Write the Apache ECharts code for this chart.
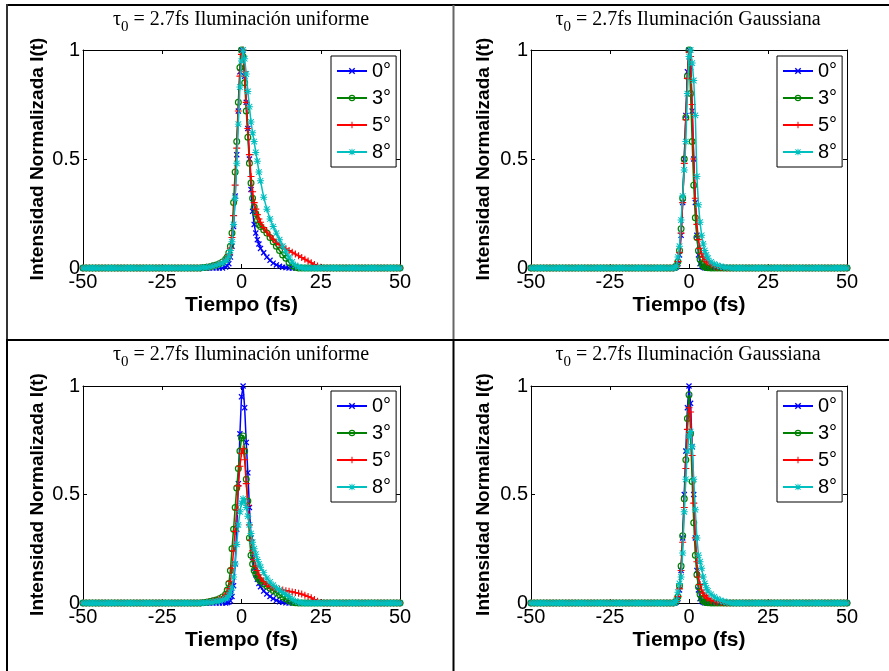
<!DOCTYPE html>
<html>
<head>
<meta charset="utf-8">
<script src="https://cdn.jsdelivr.net/npm/echarts@6/dist/echarts.min.js"></script>
<style>html,body{margin:0;padding:0;background:#fff}#c{width:889px;height:671px}</style>
</head>
<body>
<div id="c"></div>
<script>
// ---------- DATA ----------
const tiempo = [
  -50,-49,-48,-47,-46,-45,-44,-43,-42,-41,-40,-39,-38,-37,-36,-35,-34,-33,-32,-31,-30,-29,-28,-27,-26,
  -25,-24,-23,-22,-21,-20,-19,-18,-17,-16,-15,-14,-13,-12,-11,-10,-9,-8,-7,-6,-5,
  -4.5,-4,-3.5,-3,-2.5,-2,-1.5,-1,-0.5,0,0.5,1,1.5,2,2.5,3,3.5,4,4.5,5,5.5,6,
  7,8,9,10,11,12,13,14,15,16,17,18,19,20,21,22,23,24,25,26,
  27,28,29,30,31,32,33,34,35,36,37,38,39,40,41,42,43,44,45,46,47,48,49,50
];
const xTicks = [-50, -25, 0, 25, 50];
const yTicks = [0, 0.5, 1];
const nombres = ['0°', '3°', '5°', '8°'];
const tituloSimbolo = 'τ';
const tituloSub = '0';
const tituloResto = [
  ' = 2.7fs Iluminación uniforme',
  ' = 2.7fs Iluminación Gaussiana',
  ' = 2.7fs Iluminación uniforme',
  ' = 2.7fs Iluminación Gaussiana'
];
const ejeX = 'Tiempo (fs)';
const ejeY = 'Intensidad Normalizada I(t)';

// Panel 1: uniforme (top-left)
const u1_0 = [
  0,0,0,0,0, 0,0,0,0,0, 0,0,0,0,0, 0,0,0,0,0, 0,0,0,0,0,
  0,0,0,0,0, 0,0,0,0,0, 0,0,0,0,0, 0,0,0,0,0, 0.005,
  0.01,0.02,0.05,0.1,0.19,0.33,0.52,0.72,0.9,1,0.98,0.88,0.76,0.64,0.5,0.36,0.26,0.2,0.16,0.13,0.11,0.09,
  0.07,0.05,0.035,0.022,0.014,0.008,0.004,0.002, 0,0,0,0,0, 0,0,0,0,0, 0,0,
  0,0,0,0,0, 0,0,0,0,0, 0,0,0,0,0, 0,0,0,0,0, 0,0,0,0
];
const u1_3 = [
  0,0,0,0,0, 0,0,0,0,0, 0,0,0,0,0, 0,0,0,0,0, 0,0,0,0,0,
  0,0,0,0,0, 0,0,0,0,0, 0,0,0, 0.002,0.004,0.006,0.01,0.014,0.02,0.028,0.04,
  0.05,0.07,0.1,0.16,0.3,0.44,0.58,0.76,0.92,1,0.97,0.85,0.72,0.6,0.48,0.39,0.32,0.28,0.25,0.22,0.2,0.19,
  0.175,0.16,0.14,0.12,0.1,0.08,0.06,0.045,0.025,0.01,0.003, 0,0,0,0,0, 0,0,0,0,
  0,0,0,0,0, 0,0,0,0,0, 0,0,0,0,0, 0,0,0,0,0, 0,0,0,0
];
const u1_5 = [
  0,0,0,0,0, 0,0,0,0,0, 0,0,0,0,0, 0,0,0,0,0, 0,0,0,0,0,
  0,0,0,0,0, 0,0,0,0,0, 0,0,0, 0.002,0.003,0.005,0.008,0.012,0.018,0.025,0.035,
  0.045,0.06,0.09,0.14,0.24,0.38,0.55,0.72,0.88,0.98,1,0.9,0.76,0.64,0.52,0.42,0.35,0.3,0.27,0.245,0.225,0.21,
  0.185,0.165,0.148,0.132,0.118,0.107,0.097,0.088,0.08,0.072,0.064,0.056,0.048,0.04,0.032,0.024,0.016,0.009,0.003,0,
  0,0,0,0,0, 0,0,0,0,0, 0,0,0,0,0, 0,0,0,0,0, 0,0,0,0
];
const u1_8 = [
  0,0,0,0,0, 0,0,0,0,0, 0,0,0,0,0, 0,0,0,0,0, 0,0,0,0,0,
  0,0,0,0,0, 0,0,0,0,0, 0,0,0, 0.002,0.003,0.005,0.008,0.012,0.017,0.024,0.033,
  0.04,0.055,0.08,0.12,0.2,0.32,0.48,0.66,0.83,0.95,1,0.96,0.89,0.81,0.74,0.67,0.62,0.58,0.53,0.49,0.44,0.4,
  0.325,0.27,0.225,0.19,0.16,0.13,0.1,0.075,0.05,0.028,0.012,0.005,0.001, 0,0,0,0,0, 0,0,
  0,0,0,0,0, 0,0,0,0,0, 0,0,0,0,0, 0,0,0,0,0, 0,0,0,0
];

// Panel 2: Gaussiana (top-right)
const g1_0 = [
  0,0,0,0,0, 0,0,0,0,0, 0,0,0,0,0, 0,0,0,0,0, 0,0,0,0,0,
  0,0,0,0,0, 0,0,0,0,0, 0,0,0,0,0, 0,0,0,0,0, 0,
  0,0.005,0.02,0.06,0.15,0.3,0.5,0.7,0.9,1,0.92,0.72,0.5,0.3,0.15,0.06,0.02,0.008,0.003,0.001,0,0,
  0,0,0,0,0, 0,0,0,0,0, 0,0,0,0,0, 0,0,0,0,0,
  0,0,0,0,0, 0,0,0,0,0, 0,0,0,0,0, 0,0,0,0,0, 0,0,0,0
];
const g1_3 = [
  0,0,0,0,0, 0,0,0,0,0, 0,0,0,0,0, 0,0,0,0,0, 0,0,0,0,0,
  0,0,0,0,0, 0,0,0,0,0, 0,0,0,0,0, 0,0,0,0,0, 0,
  0.002,0.01,0.03,0.08,0.18,0.32,0.5,0.69,0.88,1,0.8,0.58,0.38,0.23,0.14,0.08,0.04,0.02,0.01,0.005,0.002,0.001,
  0,0,0,0,0, 0,0,0,0,0, 0,0,0,0,0, 0,0,0,0,0,
  0,0,0,0,0, 0,0,0,0,0, 0,0,0,0,0, 0,0,0,0,0, 0,0,0,0
];
const g1_5 = [
  0,0,0,0,0, 0,0,0,0,0, 0,0,0,0,0, 0,0,0,0,0, 0,0,0,0,0,
  0,0,0,0,0, 0,0,0,0,0, 0,0,0,0,0, 0,0,0,0,0, 0,
  0.002,0.01,0.03,0.07,0.16,0.3,0.48,0.68,0.87,0.99,0.97,0.75,0.5,0.32,0.2,0.13,0.09,0.065,0.05,0.038,0.03,0.024,
  0.015,0.009,0.004,0.002,0.001, 0,0,0,0,0, 0,0,0,0,0, 0,0,0,0,0,
  0,0,0,0,0, 0,0,0,0,0, 0,0,0,0,0, 0,0,0,0,0, 0,0,0,0
];
const g1_8 = [
  0,0,0,0,0, 0,0,0,0,0, 0,0,0,0,0, 0,0,0,0,0, 0,0,0,0,0,
  0,0,0,0,0, 0,0,0,0,0, 0,0,0,0,0, 0,0,0,0,0, 0,
  0.002,0.01,0.05,0.1,0.22,0.33,0.45,0.58,0.8,0.97,1,0.94,0.86,0.7,0.42,0.29,0.21,0.15,0.11,0.08,0.06,0.045,
  0.028,0.018,0.012,0.007,0.004,0.002,0.001, 0,0,0,0,0, 0,0,0,0,0, 0,0,0,
  0,0,0,0,0, 0,0,0,0,0, 0,0,0,0,0, 0,0,0,0,0, 0,0,0,0
];

// Panel 3: uniforme (bottom-left)
const u2_0 = [
  0,0,0,0,0, 0,0,0,0,0, 0,0,0,0,0, 0,0,0,0,0, 0,0,0,0,0,
  0,0,0,0,0, 0,0,0,0,0, 0,0,0,0,0, 0,0,0,0,0, 0,
  0.002,0.005,0.01,0.03,0.08,0.18,0.34,0.55,0.78,0.95,1,0.9,0.74,0.6,0.44,0.3,0.21,0.16,0.13,0.11,0.09,0.075,
  0.055,0.042,0.03,0.02,0.012,0.006,0.003,0.001, 0,0,0,0,0, 0,0,0,0,0, 0,0,
  0,0,0,0,0, 0,0,0,0,0, 0,0,0,0,0, 0,0,0,0,0, 0,0,0,0
];
const u2_3 = [
  0,0,0,0,0, 0,0,0,0,0, 0,0,0,0,0, 0,0,0,0,0, 0,0,0,0,0,
  0,0,0,0,0, 0,0,0,0,0, 0,0,0, 0.002,0.004,0.007,0.01,0.014,0.02,0.028,0.04,
  0.06,0.09,0.15,0.25,0.34,0.44,0.53,0.62,0.7,0.76,0.77,0.7,0.57,0.47,0.3,0.22,0.18,0.15,0.135,0.12,0.11,0.1,
  0.088,0.078,0.068,0.058,0.048,0.038,0.028,0.018,0.01,0.004,0.001, 0,0,0,0,0, 0,0,0,0,
  0,0,0,0,0, 0,0,0,0,0, 0,0,0,0,0, 0,0,0,0,0, 0,0,0,0
];
const u2_5 = [
  0,0,0,0,0, 0,0,0,0,0, 0,0,0,0,0, 0,0,0,0,0, 0,0,0,0,0,
  0,0,0,0,0, 0,0,0,0,0, 0,0,0, 0.002,0.003,0.005,0.008,0.012,0.017,0.024,0.033,
  0.045,0.065,0.1,0.16,0.24,0.33,0.43,0.54,0.63,0.69,0.71,0.66,0.55,0.45,0.36,0.29,0.24,0.2,0.17,0.15,0.13,0.115,
  0.1,0.085,0.076,0.07,0.066,0.063,0.06,0.057,0.054,0.051,0.048,0.045,0.041,0.036,0.03,0.024,0.016,0.008,0.002,0,
  0,0,0,0,0, 0,0,0,0,0, 0,0,0,0,0, 0,0,0,0,0, 0,0,0,0
];
const u2_8 = [
  0,0,0,0,0, 0,0,0,0,0, 0,0,0,0,0, 0,0,0,0,0, 0,0,0,0,0,
  0,0,0,0,0, 0,0,0,0,0, 0,0,0, 0.001,0.002,0.003,0.005,0.007,0.01,0.014,0.02,
  0.025,0.035,0.05,0.07,0.12,0.18,0.27,0.36,0.42,0.46,0.48,0.47,0.44,0.4,0.36,0.32,0.28,0.25,0.225,0.2,0.18,0.165,
  0.14,0.115,0.097,0.082,0.07,0.06,0.05,0.04,0.03,0.018,0.008,0.003,0.001, 0,0,0,0,0, 0,0,
  0,0,0,0,0, 0,0,0,0,0, 0,0,0,0,0, 0,0,0,0,0, 0,0,0,0
];

// Panel 4: Gaussiana (bottom-right)
const g2_0 = [
  0,0,0,0,0, 0,0,0,0,0, 0,0,0,0,0, 0,0,0,0,0, 0,0,0,0,0,
  0,0,0,0,0, 0,0,0,0,0, 0,0,0,0,0, 0,0,0,0,0, 0,
  0,0.005,0.02,0.06,0.15,0.3,0.5,0.7,0.9,1,0.92,0.72,0.5,0.3,0.15,0.06,0.02,0.008,0.003,0.001,0,0,
  0,0,0,0,0, 0,0,0,0,0, 0,0,0,0,0, 0,0,0,0,0,
  0,0,0,0,0, 0,0,0,0,0, 0,0,0,0,0, 0,0,0,0,0, 0,0,0,0
];
const g2_3 = [
  0,0,0,0,0, 0,0,0,0,0, 0,0,0,0,0, 0,0,0,0,0, 0,0,0,0,0,
  0,0,0,0,0, 0,0,0,0,0, 0,0,0,0,0, 0,0,0,0,0, 0,
  0.002,0.01,0.03,0.08,0.17,0.31,0.48,0.66,0.85,0.96,0.78,0.56,0.37,0.22,0.13,0.075,0.04,0.02,0.01,0.005,0.002,0.001,
  0,0,0,0,0, 0,0,0,0,0, 0,0,0,0,0, 0,0,0,0,0,
  0,0,0,0,0, 0,0,0,0,0, 0,0,0,0,0, 0,0,0,0,0, 0,0,0,0
];
const g2_5 = [
  0,0,0,0,0, 0,0,0,0,0, 0,0,0,0,0, 0,0,0,0,0, 0,0,0,0,0,
  0,0,0,0,0, 0,0,0,0,0, 0,0,0,0,0, 0,0,0,0,0, 0,
  0.002,0.01,0.03,0.065,0.15,0.28,0.44,0.62,0.8,0.9,0.88,0.68,0.46,0.3,0.19,0.12,0.085,0.06,0.045,0.035,0.027,0.021,
  0.013,0.008,0.004,0.002,0.001, 0,0,0,0,0, 0,0,0,0,0, 0,0,0,0,0,
  0,0,0,0,0, 0,0,0,0,0, 0,0,0,0,0, 0,0,0,0,0, 0,0,0,0
];
const g2_8 = [
  0,0,0,0,0, 0,0,0,0,0, 0,0,0,0,0, 0,0,0,0,0, 0,0,0,0,0,
  0,0,0,0,0, 0,0,0,0,0, 0,0,0,0,0, 0,0,0,0,0, 0,
  0.002,0.012,0.05,0.09,0.12,0.23,0.42,0.57,0.7,0.77,0.79,0.72,0.57,0.43,0.3,0.22,0.19,0.16,0.12,0.09,0.07,0.055,
  0.04,0.028,0.019,0.012,0.007,0.003,0.001, 0,0,0,0,0, 0,0,0,0,0, 0,0,0,
  0,0,0,0,0, 0,0,0,0,0, 0,0,0,0,0, 0,0,0,0,0, 0,0,0,0
];

const datosPaneles = [
  [u1_0, u1_3, u1_5, u1_8],
  [g1_0, g1_3, g1_5, g1_8],
  [u2_0, u2_3, u2_5, u2_8],
  [g2_0, g2_3, g2_5, g2_8]
];

// ---------- LAYOUT & STYLE ----------
const layout = [
  {grid:{left:83, top:50, width:317, height:218}, tx:241, ty:5,   lx:331, ly:56,  gapY:36},
  {grid:{left:531, top:50, width:316, height:218}, tx:688, ty:5,  lx:777, ly:56,  gapY:38},
  {grid:{left:83, top:386, width:317, height:217}, tx:241, ty:340, lx:331, ly:391, gapY:36},
  {grid:{left:531, top:386, width:316, height:217}, tx:688, ty:340, lx:777, ly:391, gapY:38}
];
const colores = ['#0000ff', '#008000', '#ff0000', '#00bfbf'];
const simbolos = [
  'path://M0,1.5L1.5,0L5,3.5L8.5,0L10,1.5L6.5,5L10,8.5L8.5,10L5,6.5L1.5,10L0,8.5L3.5,5Z',
  'path://M0,5A5,5,0,1,1,10,5A5,5,0,1,1,0,5Z M1.7,5A3.3,3.3,0,1,0,8.3,5A3.3,3.3,0,1,0,1.7,5Z',
  'path://M4.2,0H5.8V4.2H10V5.8H5.8V10H4.2V5.8H0V4.2H4.2Z',
  'path://M4.3,0H5.7V4.3H10V5.7H5.7V10H4.3V5.7H0V4.3H4.3Z M0.5,1.5L1.5,0.5L5,4L8.5,0.5L9.5,1.5L6,5L9.5,8.5L8.5,9.5L5,6L1.5,9.5L0.5,8.5L4,5Z'
];
const tamSimbolo = [6, 7, 7, 7];
const sans = 'Liberation Sans, Arial, sans-serif';
const serif = 'Liberation Serif, Times New Roman, serif';

const grids = [], xAxes = [], yAxes = [], series = [], titles = [], legends = [];
layout.forEach((L, i) => {
  grids.push(Object.assign({show:false}, L.grid));
  const xBase = {gridIndex:i, type:'value', min:xTicks[0], max:xTicks[xTicks.length-1], interval:xTicks[1]-xTicks[0],
    splitLine:{show:false},
    axisLine:{show:true, onZero:false, lineStyle:{color:'#000', width:1}},
    axisTick:{show:true, inside:true, length:4, lineStyle:{color:'#000'}}};
  xAxes.push(Object.assign({}, xBase, {position:'bottom',
    axisLabel:{show:true, color:'#000', fontSize:20, fontFamily:sans, margin:4},
    name:ejeX, nameLocation:'middle', nameGap:27,
    nameTextStyle:{color:'#000', fontSize:21, fontWeight:'bold', fontFamily:sans}}));
  xAxes.push(Object.assign({}, xBase, {position:'top', axisLabel:{show:false}}));
  const yBase = {gridIndex:i, type:'value', min:yTicks[0], max:yTicks[yTicks.length-1], interval:yTicks[1]-yTicks[0],
    splitLine:{show:false},
    axisLine:{show:true, onZero:false, lineStyle:{color:'#000', width:1}},
    axisTick:{show:true, inside:true, length:4, lineStyle:{color:'#000'}}};
  yAxes.push(Object.assign({}, yBase, {position:'left',
    axisLabel:{show:true, color:'#000', fontSize:20, fontFamily:sans, margin:3},
    name:ejeY, nameLocation:'middle', nameGap:L.gapY, nameRotate:90,
    nameTextStyle:{color:'#000', fontSize:19, fontWeight:'bold', fontFamily:sans}}));
  yAxes.push(Object.assign({}, yBase, {position:'right', axisLabel:{show:false}}));

  datosPaneles[i].forEach((arr, k) => {
    series.push({
      type:'line', name:nombres[k], xAxisIndex:2*i, yAxisIndex:2*i,
      data: tiempo.map((t, j) => [t, arr[j]]),
      symbol:simbolos[k], symbolSize:tamSimbolo[k], showSymbol:true,
      lineStyle:{color:colores[k], width:1.5},
      itemStyle:{color:colores[k]},
      emphasis:{disabled:true}, animation:false, silent:true, z:2+k
    });
  });

  titles.push({
    text:'{n|' + tituloSimbolo + '}{s|' + tituloSub + '}{n|' + tituloResto[i] + '}',
    left:L.tx, top:L.ty, textAlign:'center', padding:0,
    textStyle:{fontWeight:'normal', rich:{
      n:{fontFamily:serif, fontSize:20, fontWeight:'normal', color:'#000', lineHeight:30},
      s:{fontFamily:serif, fontSize:15, fontWeight:'normal', color:'#000', lineHeight:14, verticalAlign:'bottom'}
    }}
  });

  legends.push({
    left:L.lx, top:L.ly, orient:'vertical', data:nombres,
    itemWidth:30, itemHeight:8, itemGap:7, padding:[5,5,5,5],
    borderColor:'#000', borderWidth:1, backgroundColor:'#fff',
    selectedMode:false,
    textStyle:{fontSize:20, fontFamily:sans, color:'#000'}
  });
});

const chart = echarts.init(document.getElementById('c'), null, {renderer:'canvas'});
chart.setOption({
  backgroundColor:'#fff',
  animation:false,
  title:titles,
  legend:legends,
  grid:grids,
  xAxis:xAxes,
  yAxis:yAxes,
  series:series,
  graphic:[
    {type:'line', shape:{x1:6, y1:5, x2:889, y2:5}, style:{stroke:'#000', lineWidth:2}},
    {type:'line', shape:{x1:7, y1:4, x2:7, y2:340}, style:{stroke:'#333', lineWidth:2}},
    {type:'line', shape:{x1:7, y1:340, x2:7, y2:671}, style:{stroke:'#000', lineWidth:2}},
    {type:'line', shape:{x1:453.5, y1:5, x2:453.5, y2:340}, style:{stroke:'#666', lineWidth:2}},
    {type:'line', shape:{x1:453.5, y1:340, x2:453.5, y2:671}, style:{stroke:'#000', lineWidth:2}},
    {type:'line', shape:{x1:6, y1:340, x2:889, y2:340}, style:{stroke:'#000', lineWidth:2}}
  ]
});
</script>
</body>
</html>
